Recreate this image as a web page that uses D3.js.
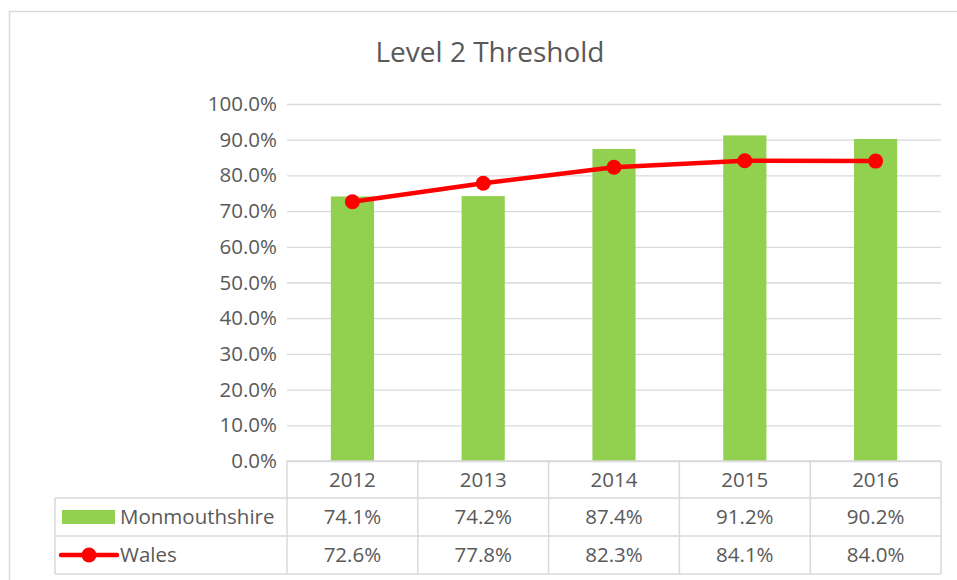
<!DOCTYPE html>
<html>
<head>
<meta charset="utf-8">
<script src="https://cdn.jsdelivr.net/npm/d3@7"></script>
<style>
  html, body { margin: 0; padding: 0; background: #fff; }
  svg { display: block; font-family: "Open Sans", sans-serif; }
</style>
</head>
<body>
<svg id="chart" width="957" height="580"></svg>
<script>
// Level 2 Threshold: Monmouthshire vs Wales
const years = ["2012", "2013", "2014", "2015", "2016"];
const monmouthshire = [0.741, 0.742, 0.874, 0.912, 0.902];
const wales = [0.726, 0.778, 0.823, 0.841, 0.840];
const yTicks = [0, 0.1, 0.2, 0.3, 0.4, 0.5, 0.6, 0.7, 0.8, 0.9, 1.0];
const seriesNames = ["Monmouthshire", "Wales"];

const textColor = "#595959";
const gridColor = "#D9D9D9";
const barColor = "#92D050";
const lineColor = "#FF0000";
const labelSize = 20.5;

const svg = d3.select("#chart");

// outer chart frame
svg.append("rect")
  .attr("x", 9.5).attr("y", 11.5)
  .attr("width", 980).attr("height", 600)
  .attr("fill", "none").attr("stroke", gridColor).attr("stroke-width", 1.5);

const plotLeft = 287, plotRight = 941, plotTop = 104, plotBottom = 461;
const x = d3.scaleBand().domain(years).range([plotLeft, plotRight]).padding(0);
const y = d3.scaleLinear().domain([0, 1]).range([plotBottom, plotTop]);
const fmt = d3.format(".1%");

// title
svg.append("text")
  .attr("x", 490).attr("y", 62)
  .attr("text-anchor", "middle")
  .attr("font-size", 28).attr("fill", textColor)
  .text("Level 2 Threshold");

// gridlines + y tick labels
const yAxis = d3.axisLeft(y).tickValues(yTicks).tickFormat(fmt)
  .tickSize(-(plotRight - plotLeft)).tickPadding(10);
const yg = svg.append("g").attr("transform", `translate(${plotLeft},0)`).call(yAxis);
yg.select(".domain").remove();
yg.selectAll(".tick line").attr("stroke", gridColor).attr("stroke-width", 1.3);
yg.selectAll(".tick text").attr("fill", textColor).attr("font-size", labelSize)
  .attr("font-family", "'Open Sans', sans-serif");

// bars
const barW = x.bandwidth() * 0.33;
svg.append("g").selectAll("rect").data(years).join("rect")
  .attr("x", d => x(d) + (x.bandwidth() - barW) / 2)
  .attr("y", (d, i) => y(monmouthshire[i]))
  .attr("width", barW)
  .attr("height", (d, i) => y(0) - y(monmouthshire[i]))
  .attr("fill", barColor);

// Wales line
const cx = d => x(d) + x.bandwidth() / 2;
const line = d3.line().x((d, i) => cx(years[i])).y(d => y(d));
svg.append("path").datum(wales)
  .attr("d", line).attr("fill", "none")
  .attr("stroke", lineColor).attr("stroke-width", 4.5)
  .attr("stroke-linejoin", "round").attr("stroke-linecap", "round");
svg.append("g").selectAll("circle").data(wales).join("circle")
  .attr("cx", (d, i) => cx(years[i])).attr("cy", d => y(d))
  .attr("r", 7.5).attr("fill", lineColor);

// data table
const rowY = [plotBottom, 498, 536, 574];
const tableLeft = 55;
const tg = svg.append("g").attr("stroke", gridColor).attr("stroke-width", 1.5);
tg.append("line").attr("x1", plotLeft).attr("x2", plotRight).attr("y1", rowY[0]).attr("y2", rowY[0]);
[1, 2, 3].forEach(k => {
  tg.append("line").attr("x1", tableLeft).attr("x2", plotRight).attr("y1", rowY[k]).attr("y2", rowY[k]);
});
const colEdges = years.map(d => x(d)).concat([plotRight]);
colEdges.forEach(ex => {
  tg.append("line").attr("x1", ex).attr("x2", ex).attr("y1", rowY[0]).attr("y2", rowY[3]);
});
tg.append("line").attr("x1", tableLeft).attr("x2", tableLeft).attr("y1", rowY[1]).attr("y2", rowY[3]);

const cellText = (tx, ty, s, anchor) => svg.append("text")
  .attr("x", tx).attr("y", ty).attr("dy", "0.36em")
  .attr("text-anchor", anchor || "middle")
  .attr("font-size", labelSize).attr("fill", textColor).text(s);

years.forEach((yr, i) => {
  const mx = cx(yr);
  cellText(mx, (rowY[0] + rowY[1]) / 2, yr);
  cellText(mx, (rowY[1] + rowY[2]) / 2, fmt(monmouthshire[i]));
  cellText(mx, (rowY[2] + rowY[3]) / 2, fmt(wales[i]));
});

// legend keys inside the table
const r1 = (rowY[1] + rowY[2]) / 2, r2 = (rowY[2] + rowY[3]) / 2;
svg.append("rect").attr("x", 62).attr("y", r1 - 7).attr("width", 53).attr("height", 14).attr("fill", barColor);
cellText(120, r1, seriesNames[0], "start");
svg.append("line").attr("x1", 61).attr("x2", 117).attr("y1", r2).attr("y2", r2)
  .attr("stroke", lineColor).attr("stroke-width", 4.5).attr("stroke-linecap", "round");
svg.append("circle").attr("cx", 89).attr("cy", r2).attr("r", 7.5).attr("fill", lineColor);
cellText(120, r2, seriesNames[1], "start");
</script>
</body>
</html>
